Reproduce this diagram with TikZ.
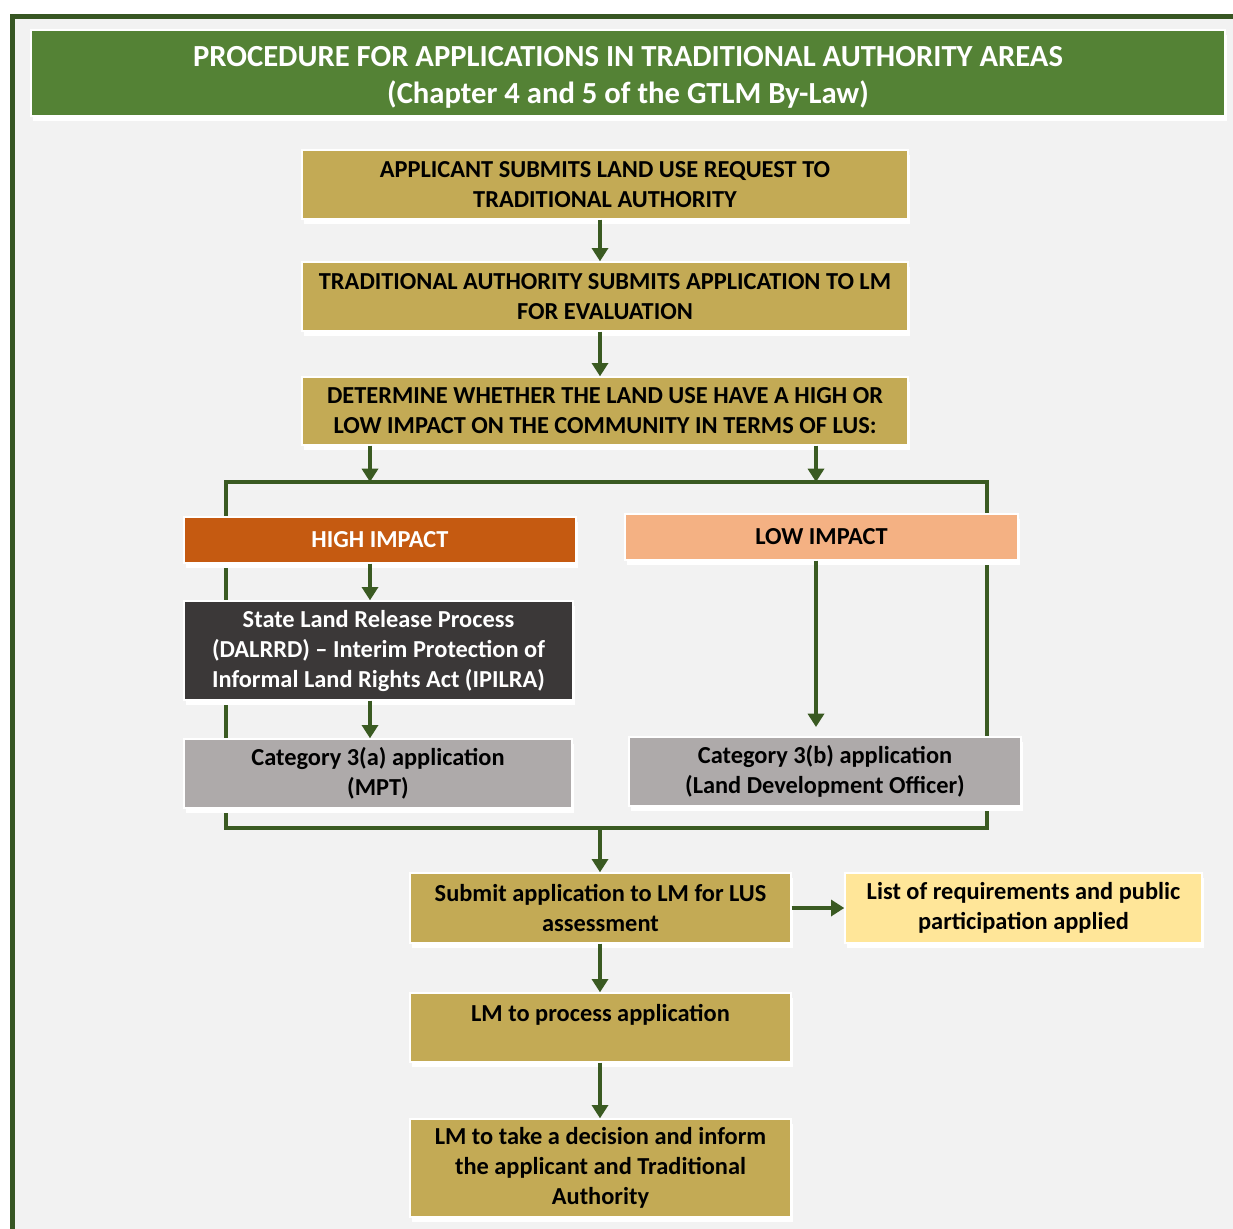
\documentclass[tikz,border=0pt]{standalone}
\usepackage{fontspec}
\setmainfont{Carlito}
\usetikzlibrary{arrows.meta,shadows}
\definecolor{bgc}{HTML}{F2F2F2}
\definecolor{framec}{HTML}{375623}
\definecolor{titlec}{HTML}{548235}
\definecolor{goldc}{HTML}{C3AA55}
\definecolor{highc}{HTML}{C55A11}
\definecolor{lowc}{HTML}{F4B183}
\definecolor{darkc}{HTML}{3B3838}
\definecolor{grayc}{HTML}{AEAAAA}
\definecolor{yelc}{HTML}{FFE699}
\definecolor{arrc}{HTML}{3A5A22}
\begin{document}
\begin{tikzpicture}[x=0.75pt,y=-0.75pt,
  box/.style={draw=white, line width=1pt, inner sep=0pt, align=center,
    font=\bfseries\fontsize{18.3}{22.5}\selectfont,
    general shadow={fill=white, shadow yshift=-3.5pt, shadow xshift=1.5pt}},
  ln/.style={draw=arrc, line width=3pt},
  arr/.style={ln, -{Triangle[width=12pt,length=10pt]}}]
\useasboundingbox (0,0) rectangle (1233,1229);
\fill[bgc] (12.5,16.5) rectangle (1233,1229);
\draw[framec, line width=3.75pt] (12.5,1229) -- (12.5,16.5) -- (1233,16.5);

% frame of the two branches
\coordinate (tl) at (226,482);
\coordinate (br) at (987,828);
\coordinate (bl) at (226,828);
\coordinate (hx) at (370,0);
\coordinate (lx) at (816,0);
\coordinate (mx) at (600,0);
\draw[ln, line join=miter] (tl) rectangle (br);

\node[box, fill=titlec, text=white, minimum width=895.5pt, minimum height=64.5pt,
  font=\bfseries\fontsize{23}{27.75}\selectfont] (title) at (628,73)
  {\rule{0pt}{21pt}PROCEDURE FOR APPLICATIONS IN TRADITIONAL AUTHORITY AREAS\\(Chapter 4 and 5 of the GTLM By-Law)};

\node[box, fill=goldc, minimum width=454.5pt, minimum height=51.75pt] (b1) at (605,184.5)
  {APPLICANT SUBMITS LAND USE REQUEST TO\\TRADITIONAL AUTHORITY};
\node[box, fill=goldc, minimum width=454.5pt, minimum height=51.75pt] (b2) at (605,296.5)
  {TRADITIONAL AUTHORITY SUBMITS APPLICATION TO LM\\FOR EVALUATION};
\node[box, fill=goldc, minimum width=454.5pt, minimum height=51pt] (b3) at (605,411)
  {DETERMINE WHETHER THE LAND USE HAVE A HIGH OR\\LOW IMPACT ON THE COMMUNITY IN TERMS OF LUS:};

\node[box, fill=highc, text=white, minimum width=294pt, minimum height=34.5pt] (hi) at (380,540) {HIGH IMPACT};
\node[box, fill=lowc, minimum width=294.75pt, minimum height=34.5pt] (lo) at (821.5,537) {LOW IMPACT};

\node[box, fill=darkc, text=white, minimum width=291.75pt, minimum height=74.25pt] (state) at (378.5,650.5)
  {State Land Release Process\\(DALRRD) -- Interim Protection of\\Informal Land Rights Act (IPILRA)};
\node[box, fill=grayc, minimum width=291pt, minimum height=51.75pt] (c3a) at (378,773.5)
  {Category 3(a) application\\(MPT)};
\node[box, fill=grayc, minimum width=294pt, minimum height=51.75pt] (c3b) at (825,771.5)
  {Category 3(b) application\\(Land Development Officer)};

\node[box, fill=goldc, minimum width=285.75pt, minimum height=52.5pt] (sub) at (600.5,908)
  {Submit application to LM for LUS\\assessment};
\node[box, fill=yelc, minimum width=267.75pt, minimum height=52.5pt] (list) at (1023.5,908)
  {List of requirements and public\\participation applied};
\node[box, fill=goldc, minimum width=285.75pt, minimum height=51.75pt] (proc) at (600.5,1027.5)
  {LM to process application\\\mbox{}};
\node[box, fill=goldc, minimum width=285.75pt, minimum height=73.5pt] (dec) at (600.5,1168)
  {LM to take a decision and inform\\the applicant and Traditional\\Authority};

% connectors
\draw[arr] (b1.south -| mx) -- (b2.north -| mx);
\draw[arr] (b2.south -| mx) -- (b3.north -| mx);
\draw[arr] (b3.south -| hx) -- (hx |- tl);
\draw[arr] (b3.south -| lx) -- (lx |- tl);
\draw[arr] (hi.south -| hx) -- (state.north -| hx);
\draw[arr] (state.south -| hx) -- (c3a.north -| hx);
\draw[arr, shorten >=7pt] (lo.south -| lx) -- (c3b.north -| lx);
\draw[arr] (mx |- bl) -- (sub.north -| mx);
\draw[arr] (sub.east) -- (list.west);
\draw[arr] (sub.south -| mx) -- (proc.north -| mx);
\draw[arr] (proc.south -| mx) -- (dec.north -| mx);
\end{tikzpicture}
\end{document}
